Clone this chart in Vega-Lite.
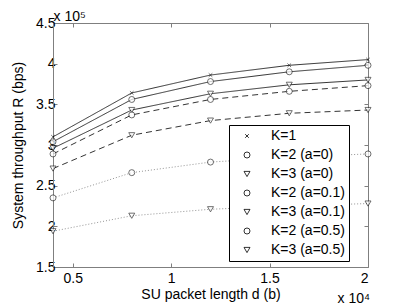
{
  "$schema": "https://vega.github.io/schema/vega-lite/v6.json",
  "width": 315,
  "height": 244,
  "autosize": "none",
  "padding": {"left": 53, "top": 23, "right": 39, "bottom": 39},
  "background": "white",
  "config": {
    "font": "Liberation Sans",
    "view": {"stroke": null},
    "axis": {
      "grid": false,
      "domainColor": "#7f7f7f",
      "domainWidth": 1,
      "tickColor": "#7f7f7f",
      "tickWidth": 1,
      "tickSize": -4,
      "labelFont": "Liberation Sans",
      "labelFontSize": 14,
      "labelColor": "black",
      "titleFont": "Liberation Sans",
      "titleFontSize": 14,
      "titleFontWeight": "normal",
      "titleColor": "black"
    }
  },
  "data": {
    "values": [
      {"d": 4000, "R": 310000, "s": "K=1"},
      {"d": 8000, "R": 364000, "s": "K=1"},
      {"d": 12000, "R": 386000, "s": "K=1"},
      {"d": 16000, "R": 398000, "s": "K=1"},
      {"d": 20000, "R": 405000, "s": "K=1"},
      {"d": 4000, "R": 304000, "s": "K=2 (a=0)"},
      {"d": 8000, "R": 356000, "s": "K=2 (a=0)"},
      {"d": 12000, "R": 378000, "s": "K=2 (a=0)"},
      {"d": 16000, "R": 390000, "s": "K=2 (a=0)"},
      {"d": 20000, "R": 398000, "s": "K=2 (a=0)"},
      {"d": 4000, "R": 296000, "s": "K=3 (a=0)"},
      {"d": 8000, "R": 343000, "s": "K=3 (a=0)"},
      {"d": 12000, "R": 363000, "s": "K=3 (a=0)"},
      {"d": 16000, "R": 374000, "s": "K=3 (a=0)"},
      {"d": 20000, "R": 380000, "s": "K=3 (a=0)"},
      {"d": 4000, "R": 289000, "s": "K=2 (a=0.1)"},
      {"d": 8000, "R": 337000, "s": "K=2 (a=0.1)"},
      {"d": 12000, "R": 356000, "s": "K=2 (a=0.1)"},
      {"d": 16000, "R": 366000, "s": "K=2 (a=0.1)"},
      {"d": 20000, "R": 373000, "s": "K=2 (a=0.1)"},
      {"d": 4000, "R": 271000, "s": "K=3 (a=0.1)"},
      {"d": 8000, "R": 312000, "s": "K=3 (a=0.1)"},
      {"d": 12000, "R": 330000, "s": "K=3 (a=0.1)"},
      {"d": 16000, "R": 339000, "s": "K=3 (a=0.1)"},
      {"d": 20000, "R": 343000, "s": "K=3 (a=0.1)"},
      {"d": 4000, "R": 235000, "s": "K=2 (a=0.5)"},
      {"d": 8000, "R": 266000, "s": "K=2 (a=0.5)"},
      {"d": 12000, "R": 279000, "s": "K=2 (a=0.5)"},
      {"d": 16000, "R": 285000, "s": "K=2 (a=0.5)"},
      {"d": 20000, "R": 289000, "s": "K=2 (a=0.5)"},
      {"d": 4000, "R": 194000, "s": "K=3 (a=0.5)"},
      {"d": 8000, "R": 213000, "s": "K=3 (a=0.5)"},
      {"d": 12000, "R": 221000, "s": "K=3 (a=0.5)"},
      {"d": 16000, "R": 225000, "s": "K=3 (a=0.5)"},
      {"d": 20000, "R": 228000, "s": "K=3 (a=0.5)"}
    ]
  },
  "layer": [
    {
      "mark": {"type": "line", "strokeWidth": 0.8},
      "encoding": {
        "x": {
          "field": "d", "type": "quantitative",
          "scale": {"domain": [4000, 20000], "nice": false, "zero": false},
          "axis": {
            "orient": "bottom",
            "values": [5000, 10000, 15000, 20000],
            "labelExpr": "datum.value / 10000",
            "labelPadding": 8,
            "title": "SU packet length d (b)",
            "titleAnchor": null,
            "titleX": 157.5,
            "titleY": 31,
            "titleAlign": "center",
            "titleBaseline": "alphabetic"
          }
        },
        "y": {
          "field": "R", "type": "quantitative",
          "scale": {"domain": [150000, 450000], "nice": false, "zero": false},
          "axis": {
            "orient": "left",
            "values": [150000, 200000, 250000, 300000, 350000, 400000, 450000],
            "labelExpr": "datum.value / 100000",
            "labelPadding": 2,
            "title": "System throughput R (bps)",
            "titleAnchor": null,
            "titleAngle": 270,
            "titleX": -35,
            "titleY": 122,
            "titleAlign": "center",
            "titleBaseline": "middle"
          }
        },
        "color": {
          "field": "s", "type": "nominal",
          "scale": {
            "domain": ["K=2 (a=0.5)", "K=3 (a=0.5)", "K=1", "K=2 (a=0)", "K=3 (a=0)", "K=2 (a=0.1)", "K=3 (a=0.1)"],
            "range": ["#777777", "#777777", "black", "black", "black", "black", "black"]
          },
          "legend": null
        },
        "strokeDash": {
          "field": "s", "type": "nominal",
          "scale": {
            "domain": ["K=3 (a=0.5)", "K=2 (a=0.5)", "K=3 (a=0.1)", "K=2 (a=0.1)", "K=3 (a=0)", "K=2 (a=0)", "K=1"],
            "range": [[1, 2], [1, 2], [6, 4], [6, 4], [1, 0], [1, 0], [1, 0]]
          },
          "legend": null
        }
      }
    },
    {
      "mark": {"type": "point", "filled": true, "fill": "white", "stroke": "black", "strokeWidth": 0.8, "size": 36},
      "encoding": {
        "x": {
          "field": "d", "type": "quantitative",
          "axis": {
            "orient": "top",
            "values": [5000, 10000, 15000, 20000],
            "labels": false,
            "title": "x 10⁵",
            "titleAngle": 0,
            "titleAnchor": null,
            "titleX": 0,
            "titleY": -3,
            "titleAlign": "left",
            "titleBaseline": "alphabetic"
          }
        },
        "y": {
          "field": "R", "type": "quantitative",
          "axis": {
            "orient": "right",
            "values": [150000, 200000, 250000, 300000, 350000, 400000, 450000],
            "labels": false,
            "title": "x 10⁴",
            "titleAngle": 0,
            "titleAnchor": null,
            "titleX": -31,
            "titleY": 279,
            "titleAlign": "left",
            "titleBaseline": "alphabetic"
          }
        },
        "shape": {
          "field": "s", "type": "nominal",
          "scale": {
            "domain": ["K=1", "K=2 (a=0)", "K=3 (a=0)", "K=2 (a=0.1)", "K=3 (a=0.1)", "K=2 (a=0.5)", "K=3 (a=0.5)"],
            "range": ["M-0.6,-0.6L0.6,0.6M-0.6,0.6L0.6,-0.6", "circle", "triangle-down", "circle", "triangle-down", "circle", "triangle-down"]
          },
          "legend": {
            "title": null,
            "orient": "none",
            "legendX": 176,
            "legendY": 102,
            "strokeColor": "black",
            "fillColor": "white",
            "padding": 4,
            "cornerRadius": 0,
            "symbolOffset": 7,
            "labelOffset": 17,
            "labelFont": "Liberation Sans",
            "labelFontSize": 14,
            "labelColor": "black",
            "rowPadding": 5,
            "symbolSize": 36,
            "symbolStrokeWidth": 0.8,
            "symbolStrokeColor": "black",
            "symbolFillColor": "white",
            "encoding": {
              "symbols": {
                "size": {"value": 36},
                "stroke": {"value": "black"},
                "fill": {"value": "white"},
                "strokeWidth": {"value": 0.8},
                "opacity": {"value": 1}
              }
            }
          }
        }
      }
    }
  ],
  "resolve": {
    "axis": {"x": "independent", "y": "independent"}
  }
}
